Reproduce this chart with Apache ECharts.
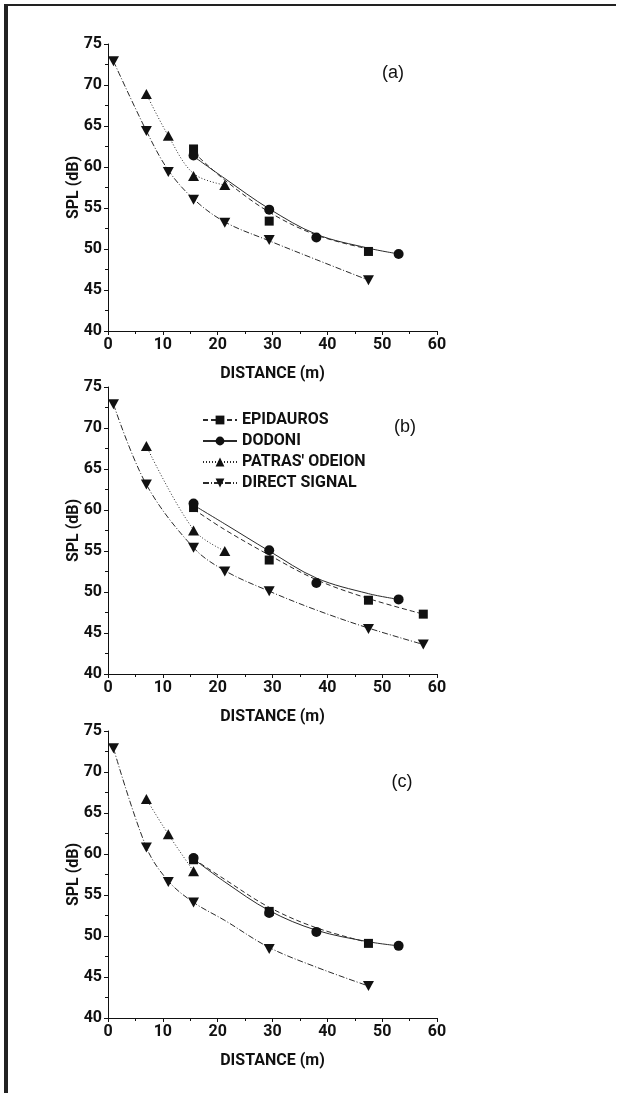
<!DOCTYPE html>
<html>
<head>
<meta charset="utf-8">
<script src="https://cdn.jsdelivr.net/npm/echarts@6/dist/echarts.min.js"></script>
<style>
  html, body { margin: 0; padding: 0; background: #fff; }
  #chart { width: 617px; height: 1093px; }
</style>
</head>
<body>
<div id="chart"></div>
<script>
// series names / panel labels
var names = ['EPIDAUROS', 'DODONI', "PATRAS' ODEION", 'DIRECT SIGNAL'];
var panelLabels = ['(a)', '(b)', '(c)'];

// measured points [distance m, SPL dB] - panel (a)
var epidA = [[15.6, 62.2], [29.4, 53.4], [47.5, 49.7]];
var dodoA = [[15.6, 61.4], [29.4, 54.8], [38, 51.4], [53, 49.4]];
var patrA = [[7, 68.9], [11, 63.8], [15.6, 58.9], [21.3, 57.8]];
var direA = [[1, 72.9], [7, 64.4], [11, 59.4], [15.6, 56], [21.3, 53.2], [29.4, 51.1], [47.5, 46.2]];
// panel (b)
var epidB = [[15.6, 60.3], [29.4, 53.9], [47.5, 49.0], [57.5, 47.3]];
var dodoB = [[15.6, 60.8], [29.4, 55.1], [38, 51.1], [53, 49.1]];
var patrB = [[7, 67.8], [15.6, 57.5], [21.3, 55.0]];
var direB = [[1, 72.9], [7, 63.1], [15.6, 55.4], [21.3, 52.5], [29.4, 50.1], [47.5, 45.5], [57.5, 43.6]];
// panel (c)
var epidC = [[15.6, 59.3], [29.4, 53.0], [47.5, 49.1]];
var dodoC = [[15.6, 59.5], [29.4, 52.8], [38, 50.5], [53, 48.8]];
var patrC = [[7, 66.7], [11, 62.4], [15.6, 57.9]];
var direC = [[1, 72.9], [7, 60.8], [11, 56.6], [15.6, 54.1], [29.4, 48.4], [47.5, 43.9]];

// fitted curves
var epidFitA = [[15.6, 61.8], [21.3, 58.4], [29.4, 54.5], [38, 51.7], [47.5, 50.0]];
var dodoFitA = [[15.6, 61.3], [21.3, 58.6], [29.4, 54.9], [38, 51.8], [47.5, 50.1], [53, 49.4]];
var patrFitA = [[7, 68.9], [11, 63.8], [15.6, 59.2], [21.3, 57.8]];
var direFitA = [[1, 72.9], [7, 64.4], [11, 59.6], [15.6, 56.1], [21.3, 53.3], [29.4, 51.0], [38, 48.7], [47.5, 46.2]];

var epidFitB = [[15.6, 60.1], [21.3, 57.6], [29.4, 54.5], [38, 51.5], [47.5, 49.2], [57.5, 47.3]];
var dodoFitB = [[15.6, 60.6], [21.3, 58.3], [29.4, 55.0], [38, 51.7], [47.5, 49.8], [53, 49.1]];
var patrFitB = [[7, 67.8], [15.6, 57.6], [21.3, 55.0]];
var direFitB = [[1, 72.9], [7, 63.1], [15.6, 55.4], [21.3, 52.6], [29.4, 50.1], [38, 47.8], [47.5, 45.6], [57.5, 43.6]];

var epidFitC = [[15.6, 59.4], [21.3, 56.9], [29.4, 53.5], [38, 51.0], [47.5, 49.2]];
var dodoFitC = [[15.6, 59.4], [21.3, 56.6], [29.4, 53.1], [38, 50.7], [47.5, 49.3], [53, 48.8]];
var patrFitC = [[7, 66.7], [11, 62.4], [15.6, 57.9]];
var direFitC = [[1, 72.9], [7, 60.8], [11, 56.7], [15.6, 54.1], [21.3, 51.9], [29.4, 48.6], [38, 46.2], [47.5, 43.9]];

var xTicks = { min: 0, max: 60, interval: 10 };
var yTicks = { min: 40, max: 75, interval: 5 };

var font = 'Roboto, "Liberation Sans", sans-serif';
var plainFont = '"Liberation Sans", Arial, sans-serif';
var ink = '#111';
var lineInk = '#2a2a2a';

var symbols = ['rect', 'circle', 'triangle', 'triangle'];
var rotates = [0, 0, 0, 180];
var sizes = [9, 10, [11, 10], [11, 10]];
var dashes = [[5, 3], 'solid', [1, 2], [6, 2, 1, 2]];

var points = [[epidA, dodoA, patrA, direA], [epidB, dodoB, patrB, direB], [epidC, dodoC, patrC, direC]];
var fits = [[epidFitA, dodoFitA, patrFitA, direFitA], [epidFitB, dodoFitB, patrFitB, direFitB], [epidFitC, dodoFitC, patrFitC, direFitC]];
var tops = [44, 387, 731];

var grids = [], xAxes = [], yAxes = [], series = [], graphics = [];

tops.forEach(function (top, p) {
    grids.push({ left: 108, top: top, width: 329, height: 287, outerBoundsMode: 'none' });
    xAxes.push({
        gridIndex: p, type: 'value', min: xTicks.min, max: xTicks.max, interval: xTicks.interval,
        name: 'DISTANCE (m)', nameLocation: 'middle', nameGap: 35, nameMoveOverlap: false,
        nameTextStyle: { fontFamily: font, fontWeight: 'bold', fontSize: 16, color: ink },
        axisLine: { onZero: false, lineStyle: { color: ink, width: 1 } },
        axisTick: { length: 4, lineStyle: { color: ink } },
        minorTick: { show: true, splitNumber: 2, length: 3, lineStyle: { color: ink } },
        axisLabel: { fontFamily: font, fontWeight: 'bold', fontSize: 16, color: ink, margin: 6 },
        splitLine: { show: false }
    });
    yAxes.push({
        gridIndex: p, type: 'value', min: yTicks.min, max: yTicks.max, interval: yTicks.interval,
        name: 'SPL (dB)', nameLocation: 'middle', nameGap: 26, nameRotate: 90, nameMoveOverlap: false,
        nameTextStyle: { fontFamily: font, fontWeight: 'bold', fontSize: 16, color: ink },
        axisLine: { onZero: false, lineStyle: { color: ink, width: 1 } },
        axisTick: { length: 4, lineStyle: { color: ink } },
        minorTick: { show: true, splitNumber: 2, length: 3, lineStyle: { color: ink } },
        axisLabel: { fontFamily: font, fontWeight: 'bold', fontSize: 16, color: ink, margin: 6 },
        splitLine: { show: false }
    });
});

// curves first so the legend takes its icon from them
tops.forEach(function (top, p) {
    names.forEach(function (nm, i) {
        series.push({
            name: nm, type: 'line', xAxisIndex: p, yAxisIndex: p,
            data: fits[p][i], smooth: 0.35, showSymbol: false,
            symbol: symbols[i], symbolRotate: rotates[i], symbolSize: sizes[i],
            itemStyle: { color: ink },
            lineStyle: { color: lineInk, width: 1, type: dashes[i] },
            silent: true, z: 2
        });
    });
});
tops.forEach(function (top, p) {
    names.forEach(function (nm, i) {
        series.push({
            name: nm, type: 'scatter', xAxisIndex: p, yAxisIndex: p,
            data: points[p][i], symbol: symbols[i], symbolRotate: rotates[i], symbolSize: sizes[i],
            itemStyle: { color: ink, opacity: 1 }, z: 3
        });
    });
});

var labelPos = [[393, 73], [405, 427], [402, 782]];
panelLabels.forEach(function (t, p) {
    graphics.push({
        type: 'text', x: labelPos[p][0], y: labelPos[p][1],
        style: { text: t, font: '18px ' + plainFont, fill: ink, textAlign: 'center', textVerticalAlign: 'middle' }
    });
});
// page frame (left and top edges)
graphics.push({ type: 'rect', shape: { x: 4, y: 4, width: 4, height: 1089 }, style: { fill: '#222' } });
graphics.push({ type: 'rect', shape: { x: 4, y: 4, width: 612, height: 2 }, style: { fill: '#222' } });

var chart = echarts.init(document.getElementById('chart'));
chart.setOption({
    animation: false,
    backgroundColor: '#fff',
    grid: grids,
    xAxis: xAxes,
    yAxis: yAxes,
    legend: {
        data: names, orient: 'vertical', left: 202, top: 412, padding: 0,
        itemWidth: 34, itemHeight: 11, itemGap: 5,
        textStyle: { fontFamily: font, fontWeight: 'bold', fontSize: 16, color: ink }
    },
    graphic: graphics,
    series: series
});
</script>
</body>
</html>
